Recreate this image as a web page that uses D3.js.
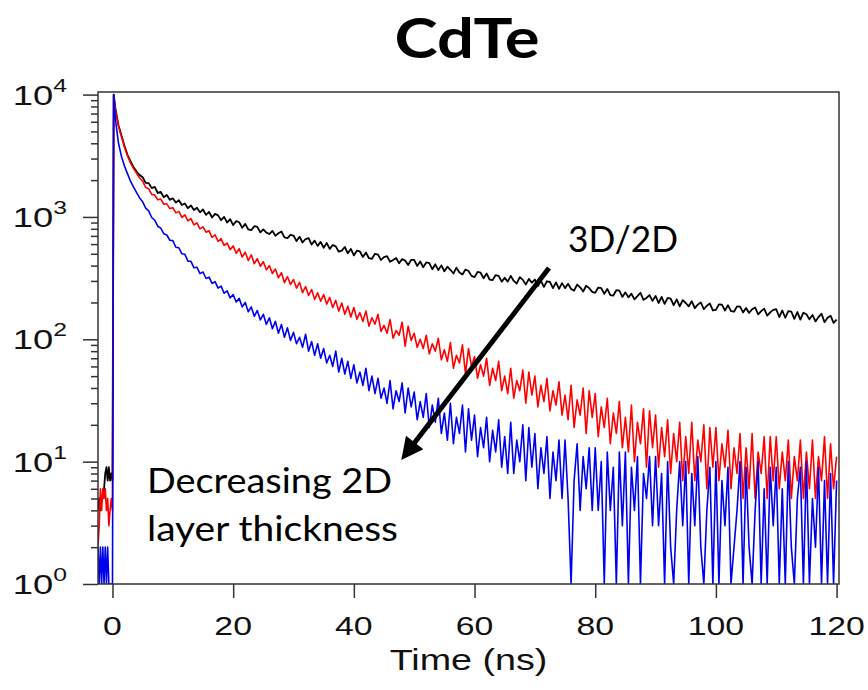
<!DOCTYPE html>
<html>
<head>
<meta charset="utf-8">
<script src="https://cdn.jsdelivr.net/npm/d3@7"></script>
<style>
    body { margin: 0; background: #fff; }
    svg { display: block; }
</style>
</head>
<body>
<div id="chart"></div>
<script>
(function () {
    'use strict';

    // time bins (ns): irregular points around the laser pulse, then 0.5 ns bins
    var earlyTimes = [-2.4, -2.2, -2.0, -1.8, -1.6, -1.4, -1.2, -1.0, -0.8, -0.6, -0.4, -0.2, 0.0,
        0.2, 0.5, 1.0, 1.5, 2.0, 2.5, 3.0, 3.5, 4.0, 4.5];
    var lateTimes = d3.range(5, 120.25, 0.5);

    // photon counts
    var blackEarly = [4, 5, 4, 5, 5, 6, 8, 9, 7, 9, 7, 8, 7,
        10000, 7600, 5600, 4600, 3800, 3200, 2850, 2550, 2350, 2200];
    var blackLate = [
        2110, 1900, 1890, 1720, 1760, 1570, 1600, 1450, 1510, 1380,
        1420, 1310, 1370, 1250, 1290, 1180, 1240, 1140, 1190, 1090,
        1150, 1040, 1100, 990, 1060, 1030, 940, 1000, 900, 960,
        858, 925, 905, 815, 878, 790, 780, 840, 830, 748,
        790, 745, 725, 770, 700, 735, 760, 680, 672, 715,
        705, 635, 690, 618, 660, 670, 595, 640, 580, 625,
        560, 612, 548, 590, 575, 520, 530, 568, 505, 548,
        485, 530, 522, 470, 512, 460, 455, 500, 492, 445,
        470, 478, 430, 445, 462, 418, 452, 440, 405, 446,
        445, 398, 432, 388, 425, 420, 374, 410, 368, 402,
        360, 392, 370, 345, 385, 352, 338, 372, 362, 330,
        322, 355, 350, 315, 345, 308, 305, 335, 330, 296,
        318, 296, 330, 300, 286, 322, 306, 280, 312, 290,
        308, 272, 300, 268, 298, 294, 262, 292, 258, 288,
        262, 284, 258, 250, 280, 266, 246, 274, 262, 244,
        240, 265, 262, 235, 258, 230, 228, 252, 250, 222,
        242, 220, 236, 212, 225, 240, 210, 218, 230, 206,
        226, 198, 222, 195, 218, 215, 190, 212, 186, 209,
        198, 186, 205, 180, 192, 200, 176, 188, 196, 172,
        174, 193, 192, 172, 190, 170, 168, 186, 185, 166,
        180, 164, 176, 182, 160, 170, 178, 156, 166, 174,
        176, 152, 172, 150, 170, 168, 147, 167, 145, 165,
        160, 146, 158, 140, 152, 162, 138, 150, 156, 136,
        145];

    var redEarly = [2, 3, 6, 4, 6, 5, 6, 4, 5, 3, 4, 5, 4,
        10000, 7400, 5500, 4500, 3700, 3150, 2750, 2480, 2270, 2080];
    var redLate = [
        1960, 1740, 1700, 1530, 1510, 1380, 1400, 1270, 1280, 1170,
        1190, 1080, 1110, 990, 1040, 930, 970, 860, 895, 800,
        830, 750, 770, 680, 715, 630, 665, 585, 610, 540,
        580, 505, 550, 470, 515, 440, 490, 415, 455, 395,
        430, 370, 400, 345, 375, 318, 350, 290, 325, 280,
        308, 262, 292, 240, 270, 228, 255, 212, 240, 205,
        232, 194, 220, 182, 208, 170, 198, 160, 186, 152,
        182, 146, 165, 140, 170, 128, 150, 133, 160, 116,
        130, 112, 145, 102, 118, 108, 138, 88, 128, 98,
        112, 86, 100, 84, 108, 76, 92, 80, 102, 68,
        82, 66, 94, 58, 74, 64, 90, 52, 84, 60,
        72, 48, 62, 50, 70, 42, 58, 46, 66, 38,
        50, 36, 58, 33, 46, 38, 56, 30, 54, 35,
        50, 28, 42, 31, 48, 26, 38, 29, 45, 24,
        35, 22, 42, 19, 32, 24, 40, 17, 38, 23,
        36, 16, 28, 19, 33, 14, 25, 17, 31, 13,
        23, 12, 29, 10, 21, 14, 27, 9, 26, 13,
        24, 9, 19, 11, 22, 8, 17, 10, 21, 7,
        16, 8, 21, 7, 15, 10, 20, 6, 19, 9,
        19, 7, 14, 9, 18, 6, 13, 8, 17, 5,
        13, 6, 17, 5, 12, 8, 16, 5, 16, 7,
        16, 6, 12, 7, 15, 5, 11, 7, 15, 5,
        12, 6, 15, 5, 11, 7, 16, 5, 14, 6,
        11];

    var blueEarly = [2, 1, 2, 1, 2, 1, 2, 1, 2, 1, 0, 1, 1,
        10000, 6200, 4000, 3100, 2600, 2250, 1950, 1750, 1580, 1430];
    var blueLate = [
        1330, 1180, 1120, 990, 940, 840, 810, 730, 712, 645,
        640, 565, 560, 500, 495, 435, 434, 384, 388, 344,
        355, 314, 322, 286, 296, 262, 272, 238, 249, 218,
        232, 202, 216, 184, 200, 168, 184, 154, 172, 144,
        160, 132, 150, 122, 140, 112, 132, 104, 124, 98,
        114, 92, 104, 86, 110, 80, 96, 74, 92, 70,
        84, 64, 74, 60, 80, 54, 70, 52, 66, 48,
        62, 44, 54, 42, 58, 38, 50, 36, 48, 33,
        40, 30, 46, 27, 38, 31, 44, 25, 40, 28,
        37, 22, 31, 23, 36, 19, 29, 21, 33, 17,
        25, 15, 30, 14, 23, 17, 29, 12, 27, 15,
        24, 11, 19, 13, 23, 10, 18, 12, 22, 9,
        16, 8, 21, 8, 15, 10, 20, 7, 19, 9,
        17, 6, 13, 8, 16, 5, 12, 7, 15, 5,
        15, 5, 0, 7, 14, 4, 11, 6, 13, 4,
        13, 4, 10, 0, 12, 4, 9, 0, 12, 3,
        12, 0, 9, 4, 11, 0, 8, 5, 11, 3,
        11, 3, 8, 0, 10, 2, 0, 4, 10, 3,
        10, 0, 8, 3, 11, 2, 0, 4, 9, 0,
        10, 0, 7, 3, 9, 0, 2, 4, 10, 0,
        9, 2, 0, 4, 10, 0, 6, 0, 9, 3,
        9, 0, 6, 0, 10, 2, 0, 5, 9, 0,
        10, 0, 5, 2, 9, 0, 7, 0, 8, 1,
        7];

    var xTicks = [0, 20, 40, 60, 80, 100, 120];
    var yDecades = [0, 1, 2, 3, 4];

    var series = [
        { name: 'black', color: '#000000', width: 1.8, counts: blackEarly.concat(blackLate) },
        { name: 'red', color: '#ff0000', width: 1.6, counts: redEarly.concat(redLate) },
        { name: 'blue', color: '#0000f0', width: 1.6, counts: blueEarly.concat(blueLate) }
    ];
    var times = earlyTimes.concat(lateTimes);

    var width = 868, height = 690;
    var plot = { left: 98, right: 839, top: 92, bottom: 584 };
    var stretch = 1.3;

    var x = d3.scaleLinear().domain([-2.4, 120.4]).range([plot.left, plot.right]);
    var y = d3.scaleLog().domain([1, 10500]).range([plot.bottom, plot.top]);

    var svg = d3.select('#chart').append('svg')
        .attr('width', width)
        .attr('height', height);

    svg.append('clipPath').attr('id', 'plotClip')
        .append('rect')
        .attr('x', plot.left)
        .attr('y', plot.top)
        .attr('width', plot.right - plot.left)
        .attr('height', plot.bottom - plot.top);

    var line = d3.line()
        .x(function (d) { return x(d[0]); })
        .y(function (d) { return y(Math.max(d[1], 1)); });

    var curves = svg.append('g').attr('clip-path', 'url(#plotClip)');
    series.forEach(function (s) {
        curves.append('path')
            .datum(d3.zip(times, s.counts))
            .attr('class', 'trace ' + s.name)
            .attr('fill', 'none')
            .attr('stroke', s.color)
            .attr('stroke-width', s.width)
            .attr('stroke-linejoin', 'round')
            .attr('d', line);
    });

    // frame
    svg.append('rect')
        .attr('x', plot.left)
        .attr('y', plot.top)
        .attr('width', plot.right - plot.left)
        .attr('height', plot.bottom - plot.top)
        .attr('fill', 'none')
        .attr('stroke', '#333')
        .attr('stroke-width', 1.5);

    // bottom axis ticks
    var xAxis = svg.append('g')
        .attr('transform', 'translate(0,' + plot.bottom + ')')
        .call(d3.axisBottom(x).tickValues(xTicks).tickSize(14).tickFormat(''));
    xAxis.select('.domain').remove();
    xAxis.selectAll('line').attr('stroke', '#333').attr('stroke-width', 1.5);

    svg.selectAll('.xlabel')
        .data(xTicks)
        .enter()
        .append('text')
        .attr('class', 'xlabel')
        .attr('transform', function (d) { return 'translate(' + x(d) + ',635) scale(' + stretch + ',1)'; })
        .attr('text-anchor', 'middle')
        .attr('font-family', "'Liberation Sans', Arial, sans-serif")
        .attr('font-size', 26)
        .attr('fill', '#111')
        .text(function (d) { return d; });

    svg.append('text')
        .attr('transform', 'translate(' + ((plot.left + plot.right) / 2) + ',670) scale(' + stretch + ',1)')
        .attr('text-anchor', 'middle')
        .attr('font-family', "'Liberation Sans', Arial, sans-serif")
        .attr('font-size', 29)
        .attr('fill', '#111')
        .text('Time (ns)');

    // left axis ticks: decades and minor ticks
    var majors = yDecades.map(function (p) { return Math.pow(10, p); });
    var minors = [];
    yDecades.slice(0, -1).forEach(function (p) {
        d3.range(2, 10).forEach(function (m) { minors.push(m * Math.pow(10, p)); });
    });
    var yMajor = svg.append('g')
        .attr('transform', 'translate(' + plot.left + ',0)')
        .call(d3.axisLeft(y).tickValues(majors).tickSize(15).tickFormat(''));
    var yMinor = svg.append('g')
        .attr('transform', 'translate(' + plot.left + ',0)')
        .call(d3.axisLeft(y).tickValues(minors).tickSize(7).tickFormat(''));
    [yMajor, yMinor].forEach(function (g) {
        g.select('.domain').remove();
        g.selectAll('line').attr('stroke', '#333').attr('stroke-width', 1.5);
    });

    var ylab = svg.selectAll('.ylabel')
        .data(yDecades)
        .enter()
        .append('text')
        .attr('class', 'ylabel')
        .attr('transform', function (d) { return 'translate(67,' + (y(Math.pow(10, d)) + 10) + ') scale(' + stretch + ',1)'; })
        .attr('text-anchor', 'end')
        .attr('font-family', "'Liberation Sans', Arial, sans-serif")
        .attr('font-size', 28)
        .attr('fill', '#111');
    ylab.append('tspan').text('10');
    ylab.append('tspan')
        .attr('dy', -13)
        .attr('font-size', 19)
        .text(function (d) { return d; });

    // title
    svg.append('text')
        .attr('x', 467)
        .attr('y', 58)
        .attr('text-anchor', 'middle')
        .attr('font-family', 'Lato, Open Sans, sans-serif')
        .attr('font-weight', 700)
        .attr('font-size', 56)
        .attr('textLength', 145)
        .attr('lengthAdjust', 'spacingAndGlyphs')
        .text('CdTe');

    // annotation
    var note = svg.append('g')
        .attr('font-family', 'Lato, Open Sans, sans-serif')
        .attr('fill', '#000');
    note.append('text')
        .attr('x', 568).attr('y', 252)
        .attr('font-size', 36)
        .attr('textLength', 110)
        .attr('lengthAdjust', 'spacingAndGlyphs')
        .text('3D/2D');
    note.append('text')
        .attr('x', 147).attr('y', 493)
        .attr('font-size', 34)
        .attr('textLength', 245)
        .attr('lengthAdjust', 'spacingAndGlyphs')
        .text('Decreasing 2D');
    note.append('text')
        .attr('x', 147).attr('y', 541)
        .attr('font-size', 34)
        .attr('textLength', 251)
        .attr('lengthAdjust', 'spacingAndGlyphs')
        .text('layer thickness');

    svg.append('defs').append('marker')
        .attr('id', 'arrowHead')
        .attr('viewBox', '0 0 10 10')
        .attr('refX', 2).attr('refY', 5)
        .attr('markerUnits', 'userSpaceOnUse')
        .attr('markerWidth', 24).attr('markerHeight', 22)
        .attr('orient', 'auto')
        .append('path')
        .attr('d', 'M0,0 L10,5 L0,10 z')
        .attr('fill', '#000');

    svg.append('line')
        .attr('x1', 549).attr('y1', 268)
        .attr('x2', 412).attr('y2', 446)
        .attr('stroke', '#000')
        .attr('stroke-width', 5)
        .attr('marker-end', 'url(#arrowHead)');
}());
</script>
</body>
</html>
